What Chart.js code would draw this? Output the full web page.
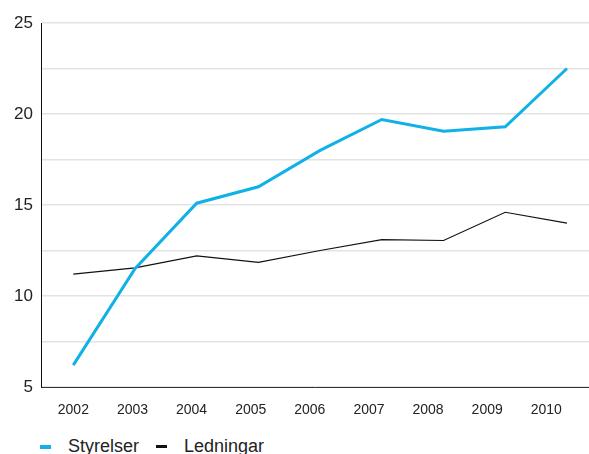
<!DOCTYPE html>
<html>
<head>
<meta charset="utf-8">
<script src="https://cdn.jsdelivr.net/npm/chart.js@4"></script>
<style>
  html, body { margin: 0; padding: 0; background: #fff; }
  #wrap { position: relative; width: 589px; height: 454px; }
  #chart { position: absolute; left: 0; top: 0; }
  #legend {
    position: absolute; left: 40px; top: 436px;
    font-family: "Liberation Sans", Arial, sans-serif; font-size: 18px; color: #222;
    display: flex; align-items: center;
  }
  .item { display: flex; align-items: center; margin-right: 17px; }
  .dash { width: 11px; margin-right: 17px; }
</style>
</head>
<body>
<div id="wrap">
  <canvas id="chart" width="589" height="425"></canvas>
  <div id="legend"></div>
</div>
<script>
const years = [2002, 2003, 2004, 2005, 2006, 2007, 2008, 2009, 2010];
const styrelser = [6.2, 11.5, 15.1, 16.0, 18.0, 19.7, 19.05, 19.3, 22.5];
const ledningar = [11.2, 11.55, 12.2, 11.85, 12.5, 13.1, 13.05, 14.6, 14.0];
const yTicks = [5, 10, 15, 20, 25];

const font = "'Liberation Sans', Arial, sans-serif";

const series = [
  { label: 'Styrelser', values: styrelser, color: '#0fb1e6', width: 3, dash: 4 },
  { label: 'Ledningar', values: ledningar, color: '#111111', width: 1.2, dash: 3 }
];

// legend under the chart
const legend = document.getElementById('legend');
series.forEach(s => {
  const item = document.createElement('div');
  item.className = 'item';
  const d = document.createElement('span');
  d.className = 'dash';
  d.style.height = s.dash + 'px';
  d.style.background = s.color;
  item.appendChild(d);
  item.appendChild(document.createTextNode(s.label));
  legend.appendChild(item);
});

new Chart(document.getElementById('chart').getContext('2d'), {
  type: 'line',
  data: {
    datasets: series.map(s => ({
      label: s.label,
      data: years.map((yr, i) => ({ x: yr, y: s.values[i] })),
      borderColor: s.color,
      backgroundColor: s.color,
      borderWidth: s.width,
      pointRadius: 0,
      tension: 0,
      xAxisID: 'xd'
    }))
  },
  options: {
    responsive: false,
    animation: false,
    layout: { padding: { top: 23, right: 0, left: 0, bottom: 0 } },
    plugins: { legend: { display: false }, tooltip: { enabled: false } },
    scales: {
      // year labels along the bottom
      x: {
        type: 'linear',
        min: 2001.453,
        max: 2010.722,
        afterBuildTicks: s => { s.ticks = years.map(v => ({ value: v })); },
        afterFit: s => { s.height = 38; },
        ticks: {
          padding: 15,
          color: '#222',
          font: { family: font, size: 14 },
          maxRotation: 0,
          callback: v => String(v)
        },
        grid: { display: false, drawTicks: false },
        border: { display: true, color: '#333', width: 1 }
      },
      // positioning axis for the lines
      xd: {
        type: 'linear',
        display: false,
        min: 2001.477,
        max: 2010.357
      },
      y: {
        min: 5,
        max: 25,
        afterBuildTicks: s => {
          const t = [];
          for (let v = 5; v <= 25; v += 2.5) t.push({ value: v });
          s.ticks = t;
        },
        afterFit: s => { s.width = 41; },
        ticks: {
          padding: 8,
          color: '#222',
          font: { family: font, size: 17 },
          callback: v => (yTicks.includes(v) ? String(v) : '')
        },
        grid: { color: '#e3e3e3', lineWidth: 1.5, drawTicks: false },
        border: { display: true, color: '#111', width: 1 }
      }
    }
  }
});
</script>
</body>
</html>
